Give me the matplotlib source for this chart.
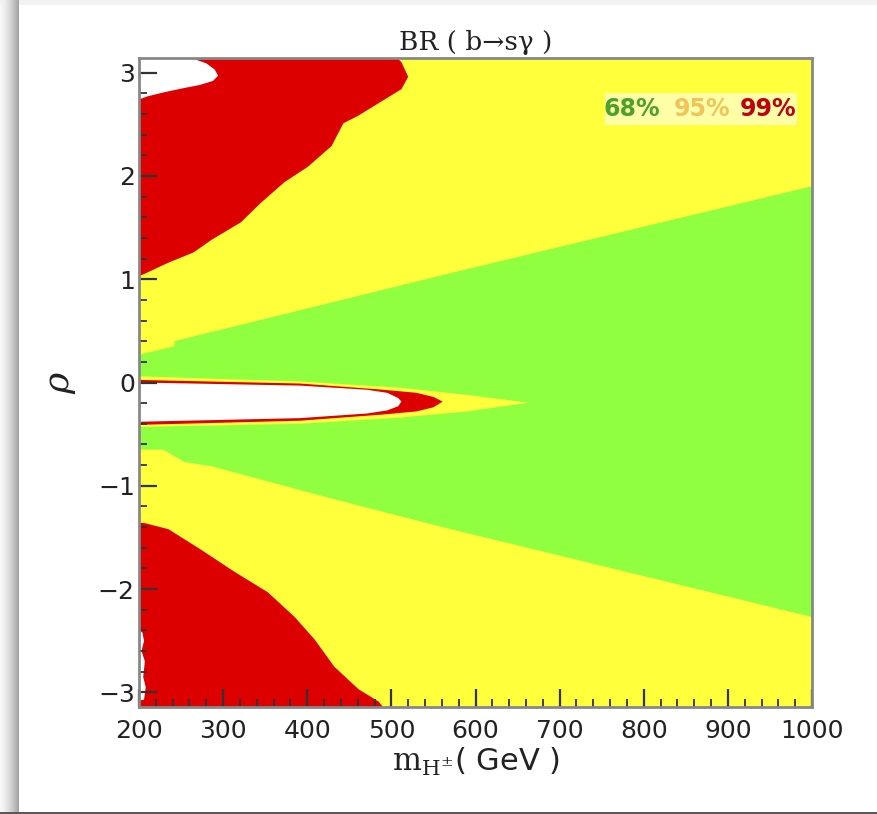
import numpy as np
import matplotlib
matplotlib.use("Agg")
import matplotlib.pyplot as plt
from matplotlib.patches import Rectangle

# ---------------- data (boundaries) ----------------
PI = np.pi
x_ticks = [200, 300, 400, 500, 600, 700, 800, 900, 1000]
y_ticks = [-3, -2, -1, 0, 1, 2, 3]

# 68% region (green wedge)
green_up_x = [200, 242, 242, 571, 1000]
green_up_y = [0.27, 0.35, 0.40, 1.06, 1.90]
green_lo_x = [200, 229, 254, 286, 432, 571, 1000]
green_lo_y = [-0.65, -0.65, -0.77, -0.81, -1.13, -1.42, -2.27]

# central 95% wedge (yellow)
cy_up_x = [200, 391, 510, 590, 663]
cy_up_y = [0.06, 0.01, -0.05, -0.12, -0.195]
cy_lo_x = [200, 391, 510, 590, 663]
cy_lo_y = [-0.43, -0.40, -0.34, -0.28, -0.195]

# central 99% wedge (red)
cr_up_x = [200, 391, 490, 530, 550, 561]
cr_up_y = [0.025, -0.01, -0.07, -0.10, -0.14, -0.185]
cr_lo_x = [200, 391, 490, 530, 550, 561]
cr_lo_y = [-0.41, -0.37, -0.31, -0.28, -0.24, -0.185]

# central excluded region (white)
cw_up_x = [200, 391, 471, 495, 508, 512]
cw_up_y = [0.0, -0.03, -0.07, -0.10, -0.15, -0.185]
cw_lo_x = [200, 391, 471, 495, 508, 512]
cw_lo_y = [-0.38, -0.345, -0.30, -0.27, -0.23, -0.185]

# upper-left 99% region (red)
rt_x = [200, 206, 235, 265, 286, 321, 345, 373, 401, 429, 443, 460, 492, 512, 520, 512, 507]
rt_y = [1.03, 1.05, 1.16, 1.26, 1.38, 1.55, 1.74, 1.94, 2.09, 2.29, 2.51, 2.58, 2.74, 2.84, 2.96, 3.10, PI]

# upper-left excluded region (white)
wt_x = [200, 262, 280, 290, 294, 288, 272, 253, 230, 210, 200]
wt_y = [PI, PI, 3.09, 3.03, 2.97, 2.92, 2.88, 2.85, 2.81, 2.77, 2.74]

# lower-left 99% region (red)
rb_x = [200, 206, 235, 274, 313, 353, 385, 409, 432, 461, 485, 490]
rb_y = [-1.36, -1.36, -1.42, -1.62, -1.83, -2.03, -2.27, -2.49, -2.75, -2.97, -3.09, -PI]

# lower-left excluded specks (white)
wb_x = [200, 204, 206, 203, 207, 205, 208, 206, 200]
wb_y = [-2.40, -2.42, -2.50, -2.60, -2.70, -2.85, -2.95, -3.07, -3.08]

legend_labels = ["68%", "95%", "99%"]

# ---------------- style ----------------
YEL = "#FFFF3C"
GRN = "#8FFF3F"
RED = "#DC0000"
W, H = 877, 814
plt.rcParams["mathtext.fontset"] = "dejavuserif"
plt.rcParams["font.family"] = ["DejaVu Sans"]

fig = plt.figure(figsize=(W / 100, H / 100), dpi=100)
fig.patch.set_facecolor("white")

# card shadow background
bg = np.ones((H, W, 3))
xs = np.arange(19)
grad = 0.97 - 0.33 * (xs / 18.0) ** 1.5
bg[:, :19, :] = grad[None, :, None]
bg[:5, :, :] = np.minimum(bg[:5, :, :], 0.95)
bg[812:, :, :] = 0.35
fig.figimage(bg, xo=0, yo=0, origin="upper", zorder=-10)

ax = fig.add_axes([139 / W, 1 - 707 / H, (812 - 139) / W, (707 - 58) / H])
ax.set_xlim(200, 1000)
ax.set_ylim(-PI, PI)
ax.set_facecolor(YEL)

def poly(xu, yu, xl, yl, color, z):
    px = list(xu) + list(xl[::-1])
    py = list(yu) + list(yl[::-1])
    ax.fill(px, py, color=color, lw=0, zorder=z)

poly(green_up_x, green_up_y, green_lo_x, green_lo_y, GRN, 1.0)
poly(cy_up_x, cy_up_y, cy_lo_x, cy_lo_y, YEL, 1.1)
poly(cr_up_x, cr_up_y, cr_lo_x, cr_lo_y, RED, 1.2)
poly(cw_up_x, cw_up_y, cw_lo_x, cw_lo_y, "white", 1.3)
ax.fill(rt_x + [200], rt_y + [PI], color=RED, lw=0, zorder=1.2)
ax.fill(wt_x, wt_y, color="white", lw=0, zorder=1.3)
ax.fill(rb_x + [200], rb_y + [-PI], color=RED, lw=0, zorder=1.2)
ax.fill(wb_x, wb_y, color="white", lw=0, zorder=1.3)

# ticks
ax.set_xticks(x_ticks)
ax.set_yticks(y_ticks)
ax.set_xticks(np.arange(200, 1001, 20), minor=True)
ax.set_yticks(np.arange(-3.0, 3.01, 0.2), minor=True)
ax.set_yticklabels(["\u22123", "\u22122", "\u22121", "0", "1", "2", "3"])
ax.tick_params(which="both", direction="in", color="#333333", top=False, right=False)
ax.tick_params(which="major", length=13, width=1.6, labelsize=18, labelcolor="#222222")
ax.tick_params(which="minor", length=6, width=1.3)
ax.tick_params(axis="x", which="major", pad=9)
ax.tick_params(axis="y", which="major", pad=3)
for sp in ax.spines.values():
    sp.set_color("#888888")
    sp.set_linewidth(2)
    sp.set_zorder(5)

ax.set_title("BR ( b\u2192s\u03b3 )", family="DejaVu Serif", fontsize=19, pad=6, color="#222222")
ax.set_xlabel(r"$\mathrm{m}_{\mathrm{H^{\pm}}}$( GeV )", fontsize=22, color="#222222", labelpad=2)
ax.set_ylabel(r"$\rho$", fontsize=26, color="#222222", labelpad=14)

# legend box
ax.add_patch(Rectangle((0.692, 0.897), 0.286, 0.049, transform=ax.transAxes,
                       facecolor="#FFFFA8", edgecolor="none", zorder=6))
for lab, col, xp in zip(legend_labels, ["#4EA02A", "#F0C45A", "#BE0014"], [0.733, 0.837, 0.935]):
    ax.text(xp, 0.921, lab, transform=ax.transAxes, ha="center", va="center",
            fontsize=17, fontweight="bold", color=col, zorder=7)

fig.savefig("out.png", dpi=100)
